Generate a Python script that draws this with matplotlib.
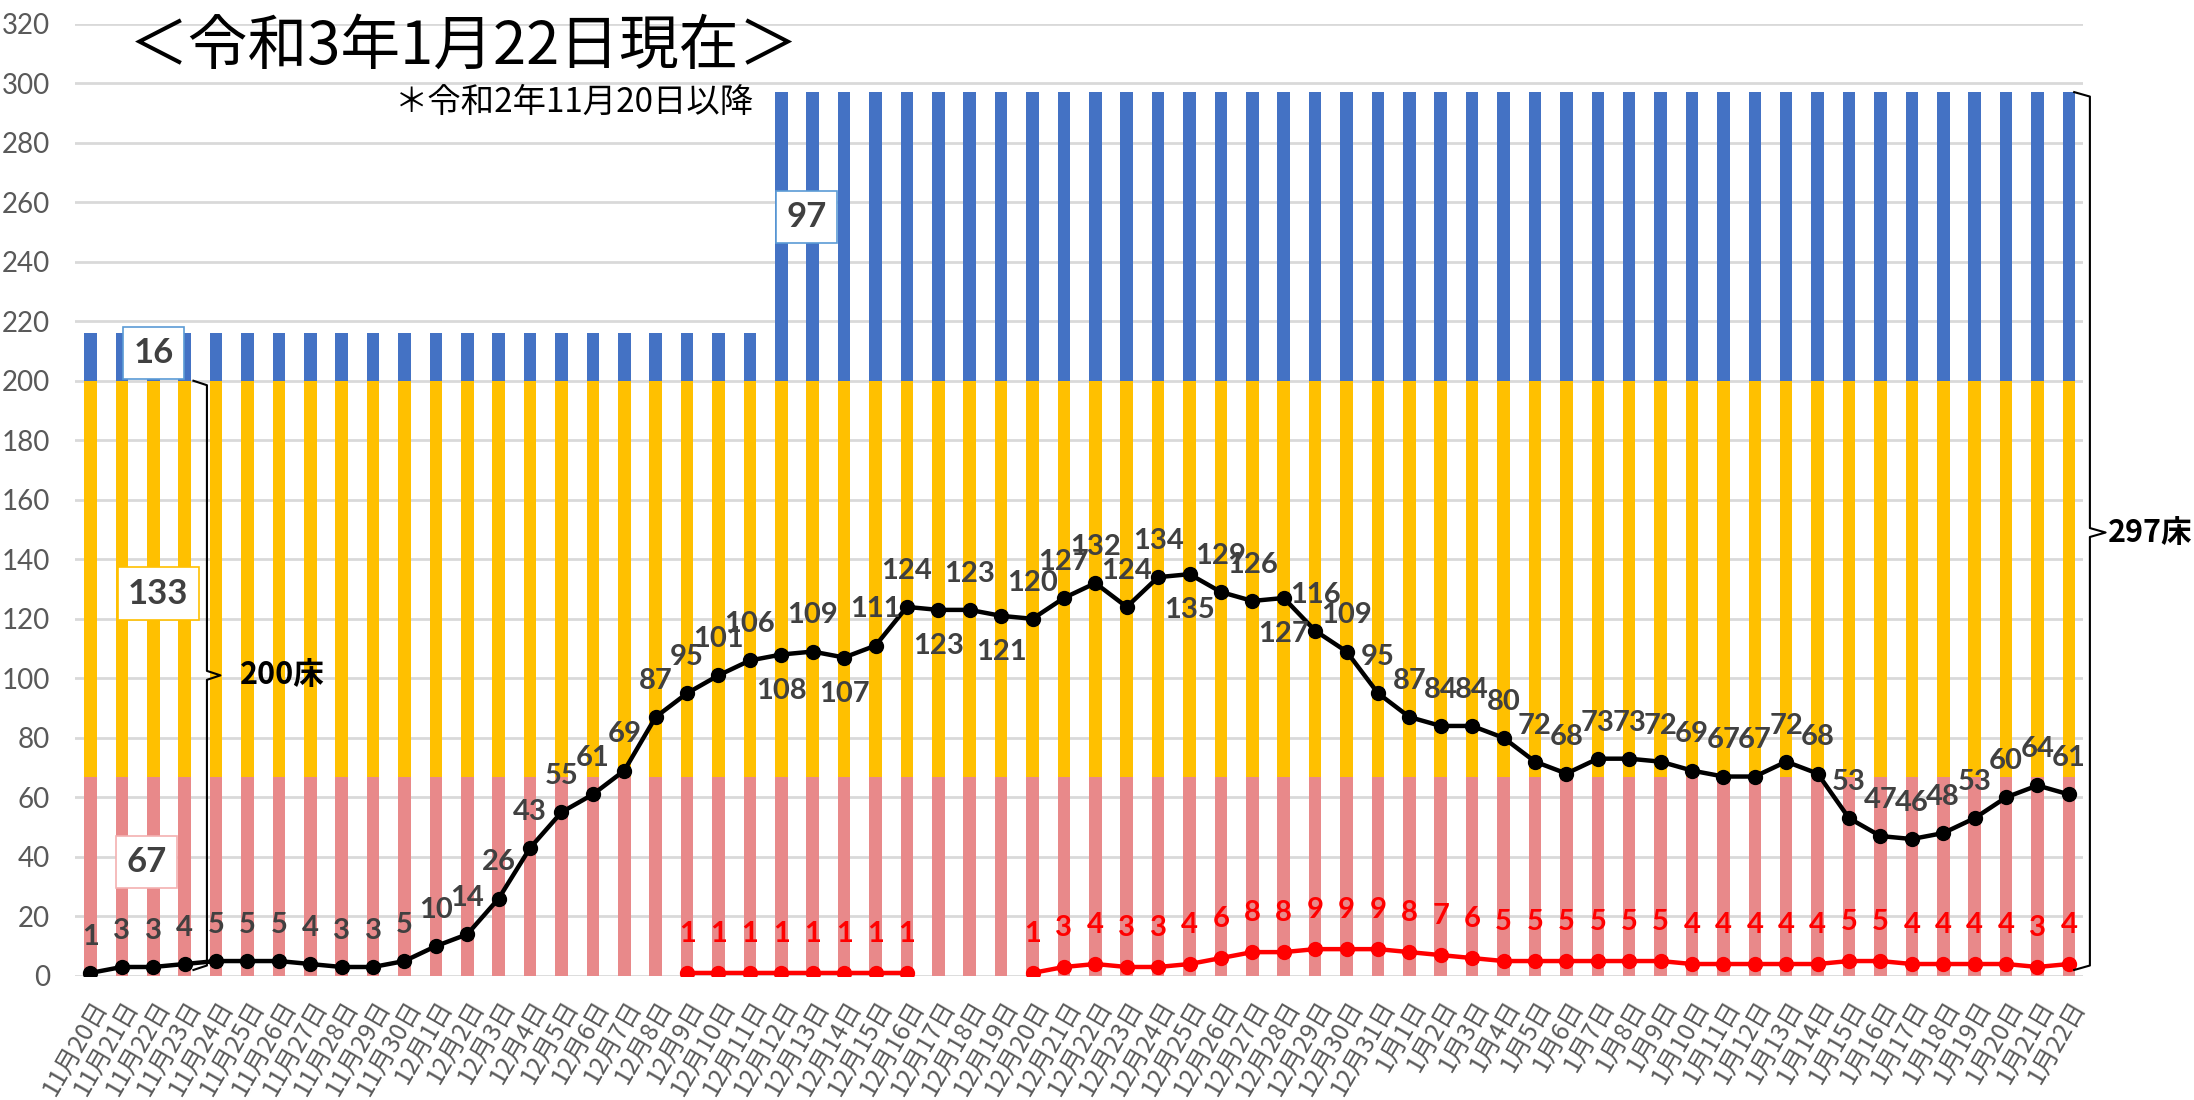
import numpy as np
import matplotlib.pyplot as plt

plt.rcParams['font.family'] = ['Noto Sans CJK JP', 'DejaVu Sans']

# 日付ラベル (11/20 - 1/22)
dates = ([f"11月{d}日" for d in range(20, 31)]
         + [f"12月{d}日" for d in range(1, 32)]
         + [f"1月{d}日" for d in range(1, 23)])

# 病床の内訳
beds_a = [67] * 64                      # ピンク
beds_b = [133] * 64                     # 黄
beds_c = [16] * 22 + [97] * 42          # 青 (12/12から297床)

# 入院患者数
hospitalized = [1, 3, 3, 4, 5, 5, 5, 4, 3, 3, 5, 10, 14, 26, 43, 55, 61, 69, 87, 95,
                101, 106, 108, 109, 107, 111, 124, 123, 123, 121, 120, 127, 132, 124,
                134, 135, 129, 126, 127, 116, 109, 95, 87, 84, 84, 80, 72, 68, 73, 73,
                72, 69, 67, 67, 72, 68, 53, 47, 46, 48, 53, 60, 64, 61]

# 重症者数 (Noneは欠測)
severe = ([None] * 19 + [1, 1, 1, 1, 1, 1, 1, 1] + [None] * 3
          + [1, 3, 4, 3, 3, 4, 6, 8, 8, 9, 9, 9, 8, 7, 6, 5, 5, 5, 5, 5, 5,
             4, 4, 4, 4, 4, 5, 5, 4, 4, 4, 4, 3, 4])

# 下側にラベルを置く日
below_dates = ["12月12日", "12月14日", "12月17日", "12月19日", "12月25日", "12月28日"]

GRAY = '#595959'
LABEL = '#404040'
NUM = ['Lato', 'DejaVu Sans']

fig = plt.figure(figsize=(21.94, 11), dpi=100)
ax = fig.add_axes([0.0342, 0.1128, 0.9152, 0.8657])

x = np.arange(len(dates))
a = np.array(beds_a)
b = np.array(beds_b)
c = np.array(beds_c)
ax.bar(x, a, width=0.4, color='#E8898A', zorder=2)
ax.bar(x, b, width=0.4, bottom=a, color='#FFC000', zorder=2)
ax.bar(x, c, width=0.4, bottom=a + b, color='#4472C4', zorder=2)

ax.plot(x, hospitalized, color='black', lw=3.2, marker='o', ms=10, zorder=4)
sev = np.array([np.nan if v is None else v for v in severe], dtype=float)
ax.plot(x, sev, color='#FF0000', lw=3.2, marker='o', ms=10, zorder=4)

for i, v in enumerate(hospitalized):
    dy = -26 if dates[i] in below_dates else 26
    ax.annotate(str(v), (i, v), xytext=(0, dy), textcoords='offset points',
                ha='center', va='center', fontsize=21, fontweight='bold',
                color=LABEL, family=NUM, zorder=5)
for i, v in enumerate(severe):
    if v is None:
        continue
    ax.annotate(str(v), (i, v), xytext=(0, 28), textcoords='offset points',
                ha='center', va='center', fontsize=21, fontweight='bold',
                color='#FF0000', family=NUM, zorder=5)

# 値ボックス
def box(xx, yy, s, ec):
    ax.text(xx, yy, s, ha='center', va='center', fontsize=25, fontweight='bold',
            color=LABEL, family=NUM, zorder=6,
            bbox=dict(boxstyle='square,pad=0.3', fc='white', ec=ec, lw=1.2))

box(2.02, 209.3, "16", '#5B9BD5')
box(2.16, 128.4, "133", '#FFC000')
box(1.80, 38.3, "67", '#F4B0B0')
box(22.8, 255, "97", '#5B9BD5')

# 括弧
def brace(xx, top, bottom, mid, d=0.43, e=1.5):
    xs = [xx - d, xx, xx, xx + d, xx, xx, xx - d]
    ys = [top, top - e, mid + e, mid, mid - e, bottom + e, bottom]
    ax.plot(xs, ys, color='black', lw=1.5, clip_on=False, zorder=6)

brace(3.71, 200, 2, 101)
ax.text(4.75, 101, "200床", ha='left', va='center', fontsize=22,
        fontweight='bold', color='black')
brace(63.67, 297, 2, 149, d=0.5)
ax.text(64.25, 149, "297床", ha='left', va='center', fontsize=22,
        fontweight='bold', color='black')

ax.set_xlim(-0.49, 63.45)
ax.set_ylim(0, 320)
ax.set_yticks(range(0, 321, 20))
ax.set_yticklabels([str(t) for t in range(0, 321, 20)], fontsize=20,
                   color=GRAY, family=NUM)
ax.set_xticks(x)
ax.set_xticklabels(dates, rotation=60, ha='right', rotation_mode='anchor',
                   fontsize=18, color=GRAY)
ax.tick_params(axis='both', length=0)
ax.tick_params(axis='x', pad=14)
ax.tick_params(axis='y', pad=18)
ax.grid(axis='y', color='#D9D9D9', lw=2, zorder=0)
ax.set_axisbelow(True)
for s in ax.spines.values():
    s.set_visible(False)

fig.text(0.2115, 0.957, "＜令和3年1月22日現在＞", ha='center', va='center',
         fontsize=43, color='black')
fig.text(0.262, 0.907, "＊令和2年11月20日以降", ha='center', va='center',
         fontsize=24, color='black')

fig.savefig('out.png', dpi=100)
